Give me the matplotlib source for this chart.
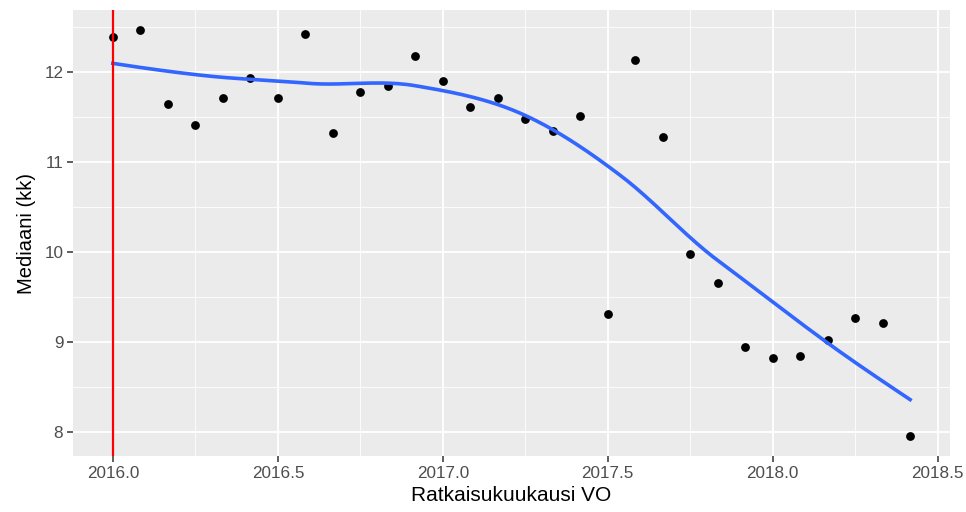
import numpy as np
import matplotlib
matplotlib.use("Agg")
import matplotlib.pyplot as plt

# kuukausittaiset mediaanit (kk)
months = 2016 + np.arange(30) / 12
medians = [12.39, 12.46, 11.64, 11.41, 11.71, 11.93, 11.71, 12.42, 11.32, 11.77,
           11.84, 12.17, 11.90, 11.61, 11.71, 11.47, 11.34, 11.51, 9.31, 12.13,
           11.28, 9.98, 9.66, 8.94, 8.82, 8.85, 9.02, 9.27, 9.21, 7.96]
vline_x = 2016.0

x_ticks = [2016.0, 2016.5, 2017.0, 2017.5, 2018.0, 2018.5]
y_ticks = [8, 9, 10, 11, 12]


def local_fit(x, y, x0, span=0.75):
    # local quadratic, tricube weights -> value and slope at x0
    n = len(x)
    q = int(np.floor(n * span))
    d = np.abs(x - x0)
    h = np.sort(d)[q - 1]
    w = (1 - np.clip(d / h, 0, 1) ** 3) ** 3
    X = np.column_stack([np.ones(n), x - x0, (x - x0) ** 2])
    W = np.sqrt(w)
    beta = np.linalg.lstsq(X * W[:, None], y * W, rcond=None)[0]
    return beta[0], beta[1]


def loess(x, y, xs, span=0.75, cell=0.2):
    # roughly what R's loess does: fit at kd-tree vertices, hermite between
    x = np.asarray(x); y = np.asarray(y)
    fc = int(np.floor(len(x) * span * cell))
    mu = 0.005 * (x.max() - x.min())
    verts = {x.min() - mu, x.max() + mu}

    def split(pts, lo, hi):
        if len(pts) <= fc:
            return
        pts = np.sort(pts)
        m = len(pts) // 2
        v = pts[m] if len(pts) % 2 else 0.5 * (pts[m - 1] + pts[m])
        verts.add(v)
        split(pts[pts <= v], lo, v)
        split(pts[pts > v], v, hi)

    split(x, x.min() - mu, x.max() + mu)
    vs = np.array(sorted(verts))
    fits = np.array([local_fit(x, y, v, span) for v in vs])
    out = []
    for t in xs:
        i = min(np.searchsorted(vs, t, side='right') - 1, len(vs) - 2)
        x0, x1 = vs[i], vs[i + 1]
        hh = x1 - x0
        s = (t - x0) / hh
        h00 = 2 * s**3 - 3 * s**2 + 1
        h10 = s**3 - 2 * s**2 + s
        h01 = -2 * s**3 + 3 * s**2
        h11 = s**3 - s**2
        out.append(h00 * fits[i, 0] + h10 * hh * fits[i, 1]
                   + h01 * fits[i + 1, 0] + h11 * hh * fits[i + 1, 1])
    return np.array(out)


xs = np.linspace(months.min(), months.max(), 300)
ys = loess(months, medians, xs)

plt.rcParams['font.family'] = ['Liberation Sans', 'DejaVu Sans']
fig = plt.figure(figsize=(9.66, 5.12), dpi=100)
ax = fig.add_axes([73 / 966, 1 - 456 / 512, (950 - 73) / 966, (456 - 10) / 512])
ax.set_facecolor('#EBEBEB')

xr = months.max() - months.min()
ax.set_xlim(months.min() - 0.05 * xr, months.max() + 0.05 * xr)
yr = max(medians) - min(medians)
ax.set_ylim(min(medians) - 0.05 * yr, max(medians) + 0.05 * yr)

ax.set_xticks(x_ticks)
ax.set_xticklabels([f"{t:.1f}" for t in x_ticks])
ax.set_yticks(y_ticks)
ax.set_xticks([2016.25, 2016.75, 2017.25, 2017.75, 2018.25], minor=True)
ax.set_yticks([8.5, 9.5, 10.5, 11.5, 12.5], minor=True)
ax.grid(which='major', color='white', lw=1.3)
ax.grid(which='minor', color='white', lw=0.6)
ax.set_axisbelow(True)
for s in ax.spines.values():
    s.set_visible(False)
ax.tick_params(which='major', length=4, width=1.1, color='#333333',
               labelcolor='#4D4D4D', labelsize=12.3, pad=3)
ax.tick_params(which='minor', length=0)

ax.scatter(months, medians, s=40, color='black', zorder=3, linewidths=0)
ax.plot(xs, ys, color='#3366FF', lw=2.6, zorder=4)
ax.axvline(vline_x, color='red', lw=1.6, zorder=5)

ax.set_xlabel('Ratkaisukuukausi VO', fontsize=15, color='black', labelpad=4)
ax.set_ylabel('Mediaani (kk)', fontsize=14.5, color='black', labelpad=6)

fig.savefig('out.png', dpi=100)
